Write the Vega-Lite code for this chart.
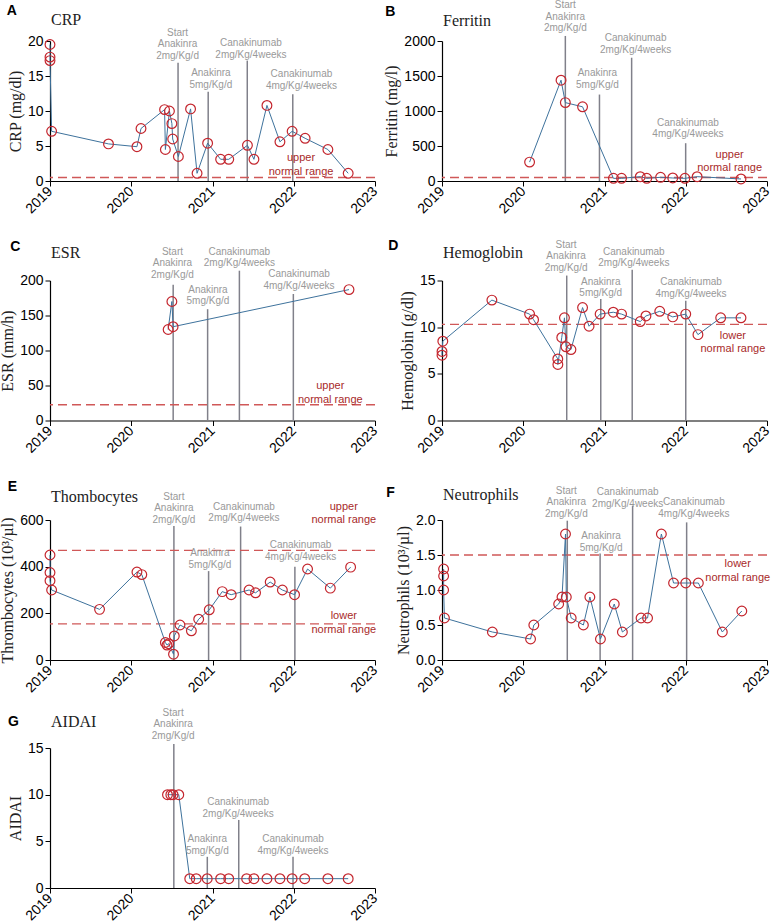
{
  "$schema": "https://vega.github.io/schema/vega-lite/v6.json",
  "background": "white",
  "padding": {"left": -1, "top": 0, "right": 0, "bottom": 0},
  "bounds": "flush",
  "spacing": 707,
  "config": {
    "view": {"stroke": null},
    "axis": {"domainColor": "#000", "domainWidth": 1.2, "tickColor": "#000", "tickWidth": 1, "tickSize": 5, "labelColor": "#000", "labelFont": "Liberation Sans", "labelFontSize": 14, "labelPadding": 2, "titleFont": "Liberation Serif", "titleFontSize": 16, "titleFontWeight": "normal", "titleColor": "#222", "titlePadding": 4, "grid": false},
    "axisX": {"labelAngle": -45, "labelAlign": "right", "labelBaseline": "middle", "labelOverlap": false, "labelFlush": false, "labelPadding": 3},
    "axisY": {"labelOverlap": false}
  },
  "datasets": {
    "crp": [
      {"d": 2019.0, "v": 19.5}, {"d": 2019.0, "v": 17.7}, {"d": 2019.0, "v": 17.2}, {"d": 2019.02, "v": 7.1},
      {"d": 2019.72, "v": 5.3}, {"d": 2020.07, "v": 4.9}, {"d": 2020.12, "v": 7.5}, {"d": 2020.41, "v": 10.2},
      {"d": 2020.42, "v": 4.5}, {"d": 2020.47, "v": 10.0}, {"d": 2020.5, "v": 8.2}, {"d": 2020.51, "v": 6.0},
      {"d": 2020.58, "v": 3.5}, {"d": 2020.73, "v": 10.3}, {"d": 2020.81, "v": 1.1}, {"d": 2020.94, "v": 5.4},
      {"d": 2021.1, "v": 3.1}, {"d": 2021.2, "v": 3.1}, {"d": 2021.43, "v": 5.1}, {"d": 2021.51, "v": 3.1},
      {"d": 2021.67, "v": 10.8}, {"d": 2021.83, "v": 5.6}, {"d": 2021.98, "v": 7.1}, {"d": 2022.14, "v": 6.1},
      {"d": 2022.42, "v": 4.5}, {"d": 2022.67, "v": 1.1}
    ],
    "ferritin": [
      {"d": 2020.078, "v": 270}, {"d": 2020.465, "v": 1440}, {"d": 2020.518, "v": 1120}, {"d": 2020.73, "v": 1060},
      {"d": 2021.11, "v": 38}, {"d": 2021.21, "v": 38}, {"d": 2021.44, "v": 62}, {"d": 2021.52, "v": 38},
      {"d": 2021.69, "v": 53}, {"d": 2021.84, "v": 43}, {"d": 2021.99, "v": 38}, {"d": 2022.14, "v": 62},
      {"d": 2022.68, "v": 29}
    ],
    "esr": [
      {"d": 2020.454, "v": 130}, {"d": 2020.5, "v": 170}, {"d": 2020.515, "v": 134}, {"d": 2022.68, "v": 187}
    ],
    "hgb": [
      {"d": 2019.0, "v": 7.0}, {"d": 2019.0, "v": 7.4}, {"d": 2019.01, "v": 8.5}, {"d": 2019.614, "v": 12.9},
      {"d": 2020.078, "v": 11.4}, {"d": 2020.127, "v": 10.8}, {"d": 2020.425, "v": 6.6}, {"d": 2020.426, "v": 6.0},
      {"d": 2020.474, "v": 8.9}, {"d": 2020.507, "v": 11.0}, {"d": 2020.526, "v": 7.9}, {"d": 2020.587, "v": 7.6},
      {"d": 2020.73, "v": 12.1}, {"d": 2020.81, "v": 10.1}, {"d": 2020.946, "v": 11.4}, {"d": 2021.108, "v": 11.6},
      {"d": 2021.21, "v": 11.4}, {"d": 2021.44, "v": 10.6}, {"d": 2021.51, "v": 11.2}, {"d": 2021.68, "v": 11.7},
      {"d": 2021.84, "v": 11.1}, {"d": 2022.0, "v": 11.4}, {"d": 2022.15, "v": 9.2}, {"d": 2022.43, "v": 11.0},
      {"d": 2022.68, "v": 11.0}
    ],
    "plt": [
      {"d": 2019.0, "v": 450}, {"d": 2019.0, "v": 375}, {"d": 2019.0, "v": 340}, {"d": 2019.02, "v": 300},
      {"d": 2019.61, "v": 217}, {"d": 2020.07, "v": 377}, {"d": 2020.13, "v": 366}, {"d": 2020.42, "v": 75},
      {"d": 2020.44, "v": 64}, {"d": 2020.46, "v": 70}, {"d": 2020.52, "v": 25}, {"d": 2020.53, "v": 103},
      {"d": 2020.6, "v": 150}, {"d": 2020.74, "v": 125}, {"d": 2020.83, "v": 175}, {"d": 2020.96, "v": 215},
      {"d": 2021.12, "v": 293}, {"d": 2021.23, "v": 280}, {"d": 2021.45, "v": 300}, {"d": 2021.53, "v": 288},
      {"d": 2021.71, "v": 334}, {"d": 2021.86, "v": 300}, {"d": 2022.01, "v": 280}, {"d": 2022.17, "v": 390},
      {"d": 2022.45, "v": 308}, {"d": 2022.7, "v": 398}
    ],
    "neut": [
      {"d": 2019.02, "v": 1.3}, {"d": 2019.02, "v": 1.2}, {"d": 2019.02, "v": 1.0}, {"d": 2019.03, "v": 0.6},
      {"d": 2019.62, "v": 0.4}, {"d": 2020.09, "v": 0.3}, {"d": 2020.13, "v": 0.5}, {"d": 2020.436, "v": 0.8},
      {"d": 2020.477, "v": 0.9}, {"d": 2020.52, "v": 1.8}, {"d": 2020.53, "v": 0.9}, {"d": 2020.59, "v": 0.6},
      {"d": 2020.74, "v": 0.5}, {"d": 2020.82, "v": 0.9}, {"d": 2020.95, "v": 0.3}, {"d": 2021.12, "v": 0.8},
      {"d": 2021.22, "v": 0.4}, {"d": 2021.45, "v": 0.6}, {"d": 2021.53, "v": 0.6}, {"d": 2021.7, "v": 1.8},
      {"d": 2021.85, "v": 1.1}, {"d": 2022.0, "v": 1.1}, {"d": 2022.155, "v": 1.1}, {"d": 2022.45, "v": 0.4},
      {"d": 2022.69, "v": 0.7}
    ],
    "aidai": [
      {"d": 2020.446, "v": 10}, {"d": 2020.487, "v": 10}, {"d": 2020.515, "v": 10}, {"d": 2020.585, "v": 10},
      {"d": 2020.72, "v": 1}, {"d": 2020.8, "v": 1}, {"d": 2020.935, "v": 1}, {"d": 2021.1, "v": 1},
      {"d": 2021.2, "v": 1}, {"d": 2021.42, "v": 1}, {"d": 2021.51, "v": 1}, {"d": 2021.67, "v": 1},
      {"d": 2021.83, "v": 1}, {"d": 2021.98, "v": 1}, {"d": 2022.135, "v": 1}, {"d": 2022.42, "v": 1},
      {"d": 2022.67, "v": 1}
    ],
    "treat": [
      {"panel": "A", "t": 2020.576, "top": 16.9, "tx": 2020.57, "ty": 20.49, "label": "Start\nAnakinra\n2mg/Kg/d"},
      {"panel": "A", "t": 2020.947, "top": 12.76, "tx": 2020.98, "ty": 14.67, "label": "Anakinra\n5mg/Kg/d"},
      {"panel": "A", "t": 2021.428, "top": 17.2, "tx": 2021.473, "ty": 18.94, "label": "Canakinumab\n2mg/Kg/4weeks"},
      {"panel": "A", "t": 2021.988, "top": 12.39, "tx": 2022.095, "ty": 14.57, "label": "Canakinumab\n4mg/Kg/4weeks"},
      {"panel": "B", "t": 2020.518, "top": 2072, "tx": 2020.518, "ty": 2438, "label": "Start\nAnakinra\n2mg/Kg/d"},
      {"panel": "B", "t": 2020.938, "top": 1235, "tx": 2020.913, "ty": 1465, "label": "Anakinra\n5mg/Kg/d"},
      {"panel": "B", "t": 2021.334, "top": 1761, "tx": 2021.383, "ty": 1967, "label": "Canakinumab\n2mg/Kg/4weeks"},
      {"panel": "B", "t": 2021.999, "top": 540, "tx": 2022.027, "ty": 761, "label": "Canakinumab\n4mg/Kg/4weeks"},
      {"panel": "C", "t": 2020.516, "top": 194, "tx": 2020.507, "ty": 233.8, "label": "Start\nAnakinra\n2mg/Kg/d"},
      {"panel": "C", "t": 2020.94, "top": 159, "tx": 2020.944, "ty": 179.9, "label": "Anakinra\n5mg/Kg/d"},
      {"panel": "C", "t": 2021.331, "top": 214, "tx": 2021.33, "ty": 234, "label": "Canakinumab\n2mg/Kg/4weeks"},
      {"panel": "C", "t": 2021.995, "top": 180.7, "tx": 2022.065, "ty": 201.9, "label": "Canakinumab\n4mg/Kg/4weeks"},
      {"panel": "D", "t": 2020.535, "top": 15.53, "tx": 2020.527, "ty": 18.31, "label": "Start\nAnakinra\n2mg/Kg/d"},
      {"panel": "D", "t": 2020.954, "top": 13.02, "tx": 2020.954, "ty": 14.34, "label": "Anakinra\n5mg/Kg/d"},
      {"panel": "D", "t": 2021.341, "top": 16.15, "tx": 2021.361, "ty": 17.55, "label": "Canakinumab\n2mg/Kg/4weeks"},
      {"panel": "D", "t": 2022.0, "top": 12.84, "tx": 2022.065, "ty": 14.28, "label": "Canakinumab\n4mg/Kg/4weeks"},
      {"panel": "E", "t": 2020.525, "top": 574, "tx": 2020.525, "ty": 678.1, "label": "Start\nAnakinra\n2mg/Kg/d"},
      {"panel": "E", "t": 2020.952, "top": 381, "tx": 2020.968, "ty": 435.9, "label": "Anakinra\n5mg/Kg/d"},
      {"panel": "E", "t": 2021.346, "top": 572, "tx": 2021.387, "ty": 634.3, "label": "Canakinumab\n2mg/Kg/4weeks"},
      {"panel": "E", "t": 2022.014, "top": 400, "tx": 2022.084, "ty": 471.3, "label": "Canakinumab\n4mg/Kg/4weeks"},
      {"panel": "F", "t": 2020.542, "top": 1.99, "tx": 2020.53, "ty": 2.345, "label": "Start\nAnakinra\n2mg/Kg/d"},
      {"panel": "F", "t": 2020.946, "top": 1.523, "tx": 2020.958, "ty": 1.694, "label": "Anakinra\n5mg/Kg/d"},
      {"panel": "F", "t": 2021.346, "top": 2.204, "tx": 2021.285, "ty": 2.323, "label": "Canakinumab\n2mg/Kg/4weeks"},
      {"panel": "F", "t": 2022.011, "top": 1.966, "tx": 2022.1, "ty": 2.184, "label": "Canakinumab\n4mg/Kg/4weeks"},
      {"panel": "G", "t": 2020.524, "top": 15.43, "tx": 2020.516, "ty": 18.22, "label": "Start\nAnakinra\n2mg/Kg/d"},
      {"panel": "G", "t": 2020.936, "top": 3.34, "tx": 2020.936, "ty": 4.71, "label": "Anakinra\n5mg/Kg/d"},
      {"panel": "G", "t": 2021.323, "top": 7.29, "tx": 2021.315, "ty": 8.66, "label": "Canakinumab\n2mg/Kg/4weeks"},
      {"panel": "G", "t": 2021.991, "top": 3.34, "tx": 2021.991, "ty": 4.71, "label": "Canakinumab\n4mg/Kg/4weeks"}
    ],
    "norm": [
      {"panel": "A", "v": 0.5, "tx": 2022.09, "ty": 2.53, "label": "upper\nnormal range"},
      {"panel": "B", "v": 50, "tx": 2022.54, "ty": 303, "label": "upper\nnormal range"},
      {"panel": "C", "v": 22.5, "tx": 2022.45, "ty": 42.1, "label": "upper\nnormal range"},
      {"panel": "D", "v": 10.3, "tx": 2022.58, "ty": 8.57, "label": "lower\nnormal range"},
      {"panel": "E", "v": 470, "tx": 2022.616, "ty": 634.4, "label": "upper\nnormal range"},
      {"panel": "E", "v": 155, "tx": 2022.616, "ty": 165.9, "label": "lower\nnormal range"},
      {"panel": "F", "v": 1.5, "tx": 2022.64, "ty": 1.293, "label": "lower\nnormal range"}
    ]
  },
  "vconcat": [
    {
      "columns": 2,
      "bounds": "flush",
      "spacing": {"row": 99.5, "column": 67},
      "concat": [
        {
          "width": 325, "height": 140,
          "layer": [
            {"data": {"name": "treat"}, "transform": [{"filter": "datum.panel === 'A'"}],
             "mark": {"type": "rule", "color": "#80808a", "strokeWidth": 1.5},
             "encoding": {
               "x": {"field": "t", "type": "quantitative", "scale": {"domain": [2019, 2023], "nice": false, "zero": false},
                     "axis": {"title": null, "format": "d", "labelExpr": "datum.value % 1 === 0 ? datum.label : ''", "values": [2019,2019.125,2019.25,2019.375,2019.5,2019.625,2019.75,2019.875,2020,2020.125,2020.25,2020.375,2020.5,2020.625,2020.75,2020.875,2021,2021.125,2021.25,2021.375,2021.5,2021.625,2021.75,2021.875,2022,2022.125,2022.25,2022.375,2022.5,2022.625,2022.75,2022.875,2023]}},
               "y": {"field": "top", "type": "quantitative", "scale": {"domain": [0, 20], "nice": false}, "axis": {"title": "CRP (mg/dl)", "values": [0, 5, 10, 15, 20], "tickCount": 5, "format": "d"}},
               "y2": {"datum": 0}
             }},
            {"data": {"name": "norm"}, "transform": [{"filter": "datum.panel === 'A'"}],
             "mark": {"type": "rule", "color": "#d05858", "strokeWidth": 1.4, "strokeDash": [9, 5]},
             "encoding": {"y": {"field": "v", "type": "quantitative"}}},
            {"data": {"name": "crp"}, "mark": {"type": "line", "color": "#3e729c", "strokeWidth": 1},
             "encoding": {"x": {"field": "d", "type": "quantitative"}, "y": {"field": "v", "type": "quantitative"}}},
            {"data": {"name": "crp"}, "mark": {"type": "point", "shape": "circle", "filled": false, "color": "#c4262e", "size": 95, "strokeWidth": 1.2, "opacity": 1},
             "encoding": {"x": {"field": "d", "type": "quantitative"}, "y": {"field": "v", "type": "quantitative"}}},
            {"data": {"name": "treat"}, "transform": [{"filter": "datum.panel === 'A'"}],
             "mark": {"type": "text", "font": "Liberation Sans", "fontSize": 10, "color": "#999999", "lineBreak": "\n", "lineHeight": 11.5, "align": "center", "baseline": "bottom"},
             "encoding": {"x": {"field": "tx", "type": "quantitative"}, "y": {"field": "ty", "type": "quantitative"}, "text": {"field": "label"}}},
            {"data": {"name": "norm"}, "transform": [{"filter": "datum.panel === 'A'"}],
             "mark": {"type": "text", "font": "Liberation Sans", "fontSize": 11, "color": "#a82a2a", "lineBreak": "\n", "lineHeight": 13.5, "align": "center", "baseline": "bottom"},
             "encoding": {"x": {"field": "tx", "type": "quantitative"}, "y": {"field": "ty", "type": "quantitative"}, "text": {"field": "label"}}},
            {"data": {"values": [{"label": "CRP"}]},
             "mark": {"type": "text", "font": "Liberation Serif", "fontSize": 16, "color": "#222", "align": "left", "baseline": "alphabetic", "dx": 1},
             "encoding": {"x": {"datum": 2019, "type": "quantitative"}, "y": {"datum": 22.29, "type": "quantitative"}, "text": {"field": "label"}}},
            {"data": {"values": [{"label": "A"}]},
             "mark": {"type": "text", "font": "Liberation Sans", "fontSize": 14, "fontWeight": "bold", "color": "#000", "align": "left", "baseline": "alphabetic"},
             "encoding": {"x": {"datum": 2018.469, "type": "quantitative"}, "y": {"datum": 23.71, "type": "quantitative"}, "text": {"field": "label"}}}
          ]
        },
        {
          "width": 325, "height": 140,
          "layer": [
            {"data": {"name": "treat"}, "transform": [{"filter": "datum.panel === 'B'"}],
             "mark": {"type": "rule", "color": "#80808a", "strokeWidth": 1.5},
             "encoding": {
               "x": {"field": "t", "type": "quantitative", "scale": {"domain": [2019, 2023], "nice": false, "zero": false},
                     "axis": {"title": null, "format": "d", "labelExpr": "datum.value % 1 === 0 ? datum.label : ''", "values": [2019,2019.125,2019.25,2019.375,2019.5,2019.625,2019.75,2019.875,2020,2020.125,2020.25,2020.375,2020.5,2020.625,2020.75,2020.875,2021,2021.125,2021.25,2021.375,2021.5,2021.625,2021.75,2021.875,2022,2022.125,2022.25,2022.375,2022.5,2022.625,2022.75,2022.875,2023]}},
               "y": {"field": "top", "type": "quantitative", "scale": {"domain": [0, 2000], "nice": false}, "axis": {"title": "Ferritin (mg/l)", "values": [0, 500, 1000, 1500, 2000], "tickCount": 5, "format": "d"}},
               "y2": {"datum": 0}
             }},
            {"data": {"name": "norm"}, "transform": [{"filter": "datum.panel === 'B'"}],
             "mark": {"type": "rule", "color": "#d05858", "strokeWidth": 1.4, "strokeDash": [9, 5]},
             "encoding": {"y": {"field": "v", "type": "quantitative"}}},
            {"data": {"name": "ferritin"}, "mark": {"type": "line", "color": "#3e729c", "strokeWidth": 1},
             "encoding": {"x": {"field": "d", "type": "quantitative"}, "y": {"field": "v", "type": "quantitative"}}},
            {"data": {"name": "ferritin"}, "mark": {"type": "point", "shape": "circle", "filled": false, "color": "#c4262e", "size": 95, "strokeWidth": 1.2, "opacity": 1},
             "encoding": {"x": {"field": "d", "type": "quantitative"}, "y": {"field": "v", "type": "quantitative"}}},
            {"data": {"name": "treat"}, "transform": [{"filter": "datum.panel === 'B'"}],
             "mark": {"type": "text", "font": "Liberation Sans", "fontSize": 10, "color": "#999999", "lineBreak": "\n", "lineHeight": 11.5, "align": "center", "baseline": "bottom"},
             "encoding": {"x": {"field": "tx", "type": "quantitative"}, "y": {"field": "ty", "type": "quantitative"}, "text": {"field": "label"}}},
            {"data": {"name": "norm"}, "transform": [{"filter": "datum.panel === 'B'"}],
             "mark": {"type": "text", "font": "Liberation Sans", "fontSize": 11, "color": "#a82a2a", "lineBreak": "\n", "lineHeight": 13.5, "align": "center", "baseline": "bottom"},
             "encoding": {"x": {"field": "tx", "type": "quantitative"}, "y": {"field": "ty", "type": "quantitative"}, "text": {"field": "label"}}},
            {"data": {"values": [{"label": "Ferritin"}]},
             "mark": {"type": "text", "font": "Liberation Serif", "fontSize": 16, "color": "#222", "align": "left", "baseline": "alphabetic", "dx": 1},
             "encoding": {"x": {"datum": 2019, "type": "quantitative"}, "y": {"datum": 2216, "type": "quantitative"}, "text": {"field": "label"}}},
            {"data": {"values": [{"label": "B"}]},
             "mark": {"type": "text", "font": "Liberation Sans", "fontSize": 14, "fontWeight": "bold", "color": "#000", "align": "left", "baseline": "alphabetic"},
             "encoding": {"x": {"datum": 2018.302, "type": "quantitative"}, "y": {"datum": 2359, "type": "quantitative"}, "text": {"field": "label"}}}
          ]
        },
        {
          "width": 325, "height": 140,
          "layer": [
            {"data": {"name": "treat"}, "transform": [{"filter": "datum.panel === 'C'"}],
             "mark": {"type": "rule", "color": "#80808a", "strokeWidth": 1.5},
             "encoding": {
               "x": {"field": "t", "type": "quantitative", "scale": {"domain": [2019, 2023], "nice": false, "zero": false},
                     "axis": {"title": null, "format": "d", "labelExpr": "datum.value % 1 === 0 ? datum.label : ''", "values": [2019,2019.125,2019.25,2019.375,2019.5,2019.625,2019.75,2019.875,2020,2020.125,2020.25,2020.375,2020.5,2020.625,2020.75,2020.875,2021,2021.125,2021.25,2021.375,2021.5,2021.625,2021.75,2021.875,2022,2022.125,2022.25,2022.375,2022.5,2022.625,2022.75,2022.875,2023]}},
               "y": {"field": "top", "type": "quantitative", "scale": {"domain": [0, 200], "nice": false}, "axis": {"title": "ESR (mm/h)", "values": [0, 50, 100, 150, 200], "tickCount": 5, "format": "d"}},
               "y2": {"datum": 0}
             }},
            {"data": {"name": "norm"}, "transform": [{"filter": "datum.panel === 'C'"}],
             "mark": {"type": "rule", "color": "#d05858", "strokeWidth": 1.4, "strokeDash": [9, 5]},
             "encoding": {"y": {"field": "v", "type": "quantitative"}}},
            {"data": {"name": "esr"}, "mark": {"type": "line", "color": "#3e729c", "strokeWidth": 1},
             "encoding": {"x": {"field": "d", "type": "quantitative"}, "y": {"field": "v", "type": "quantitative"}}},
            {"data": {"name": "esr"}, "mark": {"type": "point", "shape": "circle", "filled": false, "color": "#c4262e", "size": 95, "strokeWidth": 1.2, "opacity": 1},
             "encoding": {"x": {"field": "d", "type": "quantitative"}, "y": {"field": "v", "type": "quantitative"}}},
            {"data": {"name": "treat"}, "transform": [{"filter": "datum.panel === 'C'"}],
             "mark": {"type": "text", "font": "Liberation Sans", "fontSize": 10, "color": "#999999", "lineBreak": "\n", "lineHeight": 11.5, "align": "center", "baseline": "bottom"},
             "encoding": {"x": {"field": "tx", "type": "quantitative"}, "y": {"field": "ty", "type": "quantitative"}, "text": {"field": "label"}}},
            {"data": {"name": "norm"}, "transform": [{"filter": "datum.panel === 'C'"}],
             "mark": {"type": "text", "font": "Liberation Sans", "fontSize": 11, "color": "#a82a2a", "lineBreak": "\n", "lineHeight": 13.5, "align": "center", "baseline": "bottom"},
             "encoding": {"x": {"field": "tx", "type": "quantitative"}, "y": {"field": "ty", "type": "quantitative"}, "text": {"field": "label"}}},
            {"data": {"values": [{"label": "ESR"}]},
             "mark": {"type": "text", "font": "Liberation Serif", "fontSize": 16, "color": "#222", "align": "left", "baseline": "alphabetic", "dx": 1},
             "encoding": {"x": {"datum": 2019, "type": "quantitative"}, "y": {"datum": 231.6, "type": "quantitative"}, "text": {"field": "label"}}},
            {"data": {"values": [{"label": "C"}]},
             "mark": {"type": "text", "font": "Liberation Sans", "fontSize": 14, "fontWeight": "bold", "color": "#000", "align": "left", "baseline": "alphabetic"},
             "encoding": {"x": {"datum": 2018.511, "type": "quantitative"}, "y": {"datum": 242.2, "type": "quantitative"}, "text": {"field": "label"}}}
          ]
        },
        {
          "width": 325, "height": 140,
          "layer": [
            {"data": {"name": "treat"}, "transform": [{"filter": "datum.panel === 'D'"}],
             "mark": {"type": "rule", "color": "#80808a", "strokeWidth": 1.5},
             "encoding": {
               "x": {"field": "t", "type": "quantitative", "scale": {"domain": [2019, 2023], "nice": false, "zero": false},
                     "axis": {"title": null, "format": "d", "labelExpr": "datum.value % 1 === 0 ? datum.label : ''", "values": [2019,2019.125,2019.25,2019.375,2019.5,2019.625,2019.75,2019.875,2020,2020.125,2020.25,2020.375,2020.5,2020.625,2020.75,2020.875,2021,2021.125,2021.25,2021.375,2021.5,2021.625,2021.75,2021.875,2022,2022.125,2022.25,2022.375,2022.5,2022.625,2022.75,2022.875,2023]}},
               "y": {"field": "top", "type": "quantitative", "scale": {"domain": [0, 15], "nice": false}, "axis": {"title": "Hemoglobin (g/dl)", "values": [0, 5, 10, 15], "tickCount": 4, "format": "d"}},
               "y2": {"datum": 0}
             }},
            {"data": {"name": "norm"}, "transform": [{"filter": "datum.panel === 'D'"}],
             "mark": {"type": "rule", "color": "#d05858", "strokeWidth": 1.4, "strokeDash": [9, 5]},
             "encoding": {"y": {"field": "v", "type": "quantitative"}}},
            {"data": {"name": "hgb"}, "mark": {"type": "line", "color": "#3e729c", "strokeWidth": 1},
             "encoding": {"x": {"field": "d", "type": "quantitative"}, "y": {"field": "v", "type": "quantitative"}}},
            {"data": {"name": "hgb"}, "mark": {"type": "point", "shape": "circle", "filled": false, "color": "#c4262e", "size": 95, "strokeWidth": 1.2, "opacity": 1},
             "encoding": {"x": {"field": "d", "type": "quantitative"}, "y": {"field": "v", "type": "quantitative"}}},
            {"data": {"name": "treat"}, "transform": [{"filter": "datum.panel === 'D'"}],
             "mark": {"type": "text", "font": "Liberation Sans", "fontSize": 10, "color": "#999999", "lineBreak": "\n", "lineHeight": 11.5, "align": "center", "baseline": "bottom"},
             "encoding": {"x": {"field": "tx", "type": "quantitative"}, "y": {"field": "ty", "type": "quantitative"}, "text": {"field": "label"}}},
            {"data": {"name": "norm"}, "transform": [{"filter": "datum.panel === 'D'"}],
             "mark": {"type": "text", "font": "Liberation Sans", "fontSize": 11, "color": "#a82a2a", "lineBreak": "\n", "lineHeight": 13.5, "align": "center", "baseline": "bottom"},
             "encoding": {"x": {"field": "tx", "type": "quantitative"}, "y": {"field": "ty", "type": "quantitative"}, "text": {"field": "label"}}},
            {"data": {"values": [{"label": "Hemoglobin"}]},
             "mark": {"type": "text", "font": "Liberation Serif", "fontSize": 16, "color": "#222", "align": "left", "baseline": "alphabetic", "dx": 1},
             "encoding": {"x": {"datum": 2019, "type": "quantitative"}, "y": {"datum": 17.4, "type": "quantitative"}, "text": {"field": "label"}}},
            {"data": {"values": [{"label": "D"}]},
             "mark": {"type": "text", "font": "Liberation Sans", "fontSize": 14, "fontWeight": "bold", "color": "#000", "align": "left", "baseline": "alphabetic"},
             "encoding": {"x": {"datum": 2018.337, "type": "quantitative"}, "y": {"datum": 18.22, "type": "quantitative"}, "text": {"field": "label"}}}
          ]
        },
        {
          "width": 325, "height": 140,
          "layer": [
            {"data": {"name": "treat"}, "transform": [{"filter": "datum.panel === 'E'"}],
             "mark": {"type": "rule", "color": "#80808a", "strokeWidth": 1.5},
             "encoding": {
               "x": {"field": "t", "type": "quantitative", "scale": {"domain": [2019, 2023], "nice": false, "zero": false},
                     "axis": {"title": null, "format": "d", "labelExpr": "datum.value % 1 === 0 ? datum.label : ''", "values": [2019,2019.125,2019.25,2019.375,2019.5,2019.625,2019.75,2019.875,2020,2020.125,2020.25,2020.375,2020.5,2020.625,2020.75,2020.875,2021,2021.125,2021.25,2021.375,2021.5,2021.625,2021.75,2021.875,2022,2022.125,2022.25,2022.375,2022.5,2022.625,2022.75,2022.875,2023]}},
               "y": {"field": "top", "type": "quantitative", "scale": {"domain": [0, 600], "nice": false}, "axis": {"title": "Thrombocytes (10³/µl)", "values": [0, 200, 400, 600], "tickCount": 4, "format": "d"}},
               "y2": {"datum": 0}
             }},
            {"data": {"name": "norm"}, "transform": [{"filter": "datum.panel === 'E'"}],
             "mark": {"type": "rule", "color": "#d05858", "strokeWidth": 1.4, "strokeDash": [9, 5]},
             "encoding": {"y": {"field": "v", "type": "quantitative"}}},
            {"data": {"name": "plt"}, "mark": {"type": "line", "color": "#3e729c", "strokeWidth": 1},
             "encoding": {"x": {"field": "d", "type": "quantitative"}, "y": {"field": "v", "type": "quantitative"}}},
            {"data": {"name": "plt"}, "mark": {"type": "point", "shape": "circle", "filled": false, "color": "#c4262e", "size": 95, "strokeWidth": 1.2, "opacity": 1},
             "encoding": {"x": {"field": "d", "type": "quantitative"}, "y": {"field": "v", "type": "quantitative"}}},
            {"data": {"name": "treat"}, "transform": [{"filter": "datum.panel === 'E'"}],
             "mark": {"type": "text", "font": "Liberation Sans", "fontSize": 10, "color": "#999999", "lineBreak": "\n", "lineHeight": 11.5, "align": "center", "baseline": "bottom"},
             "encoding": {"x": {"field": "tx", "type": "quantitative"}, "y": {"field": "ty", "type": "quantitative"}, "text": {"field": "label"}}},
            {"data": {"name": "norm"}, "transform": [{"filter": "datum.panel === 'E'"}],
             "mark": {"type": "text", "font": "Liberation Sans", "fontSize": 11, "color": "#a82a2a", "lineBreak": "\n", "lineHeight": 13.5, "align": "center", "baseline": "bottom"},
             "encoding": {"x": {"field": "tx", "type": "quantitative"}, "y": {"field": "ty", "type": "quantitative"}, "text": {"field": "label"}}},
            {"data": {"values": [{"label": "Thombocytes"}]},
             "mark": {"type": "text", "font": "Liberation Serif", "fontSize": 16, "color": "#222", "align": "left", "baseline": "alphabetic", "dx": 1},
             "encoding": {"x": {"datum": 2019, "type": "quantitative"}, "y": {"datum": 677, "type": "quantitative"}, "text": {"field": "label"}}},
            {"data": {"values": [{"label": "E"}]},
             "mark": {"type": "text", "font": "Liberation Sans", "fontSize": 14, "fontWeight": "bold", "color": "#000", "align": "left", "baseline": "alphabetic"},
             "encoding": {"x": {"datum": 2018.48, "type": "quantitative"}, "y": {"datum": 723, "type": "quantitative"}, "text": {"field": "label"}}}
          ]
        },
        {
          "width": 325, "height": 140,
          "layer": [
            {"data": {"name": "treat"}, "transform": [{"filter": "datum.panel === 'F'"}],
             "mark": {"type": "rule", "color": "#80808a", "strokeWidth": 1.5},
             "encoding": {
               "x": {"field": "t", "type": "quantitative", "scale": {"domain": [2019, 2023], "nice": false, "zero": false},
                     "axis": {"title": null, "format": "d", "labelExpr": "datum.value % 1 === 0 ? datum.label : ''", "values": [2019,2019.125,2019.25,2019.375,2019.5,2019.625,2019.75,2019.875,2020,2020.125,2020.25,2020.375,2020.5,2020.625,2020.75,2020.875,2021,2021.125,2021.25,2021.375,2021.5,2021.625,2021.75,2021.875,2022,2022.125,2022.25,2022.375,2022.5,2022.625,2022.75,2022.875,2023]}},
               "y": {"field": "top", "type": "quantitative", "scale": {"domain": [0, 2], "nice": false}, "axis": {"title": "Neutrophils (10³/µl)", "values": [0, 0.5, 1, 1.5, 2], "tickCount": 5, "format": ".1f"}},
               "y2": {"datum": 0}
             }},
            {"data": {"name": "norm"}, "transform": [{"filter": "datum.panel === 'F'"}],
             "mark": {"type": "rule", "color": "#d05858", "strokeWidth": 1.4, "strokeDash": [9, 5]},
             "encoding": {"y": {"field": "v", "type": "quantitative"}}},
            {"data": {"name": "neut"}, "mark": {"type": "line", "color": "#3e729c", "strokeWidth": 1},
             "encoding": {"x": {"field": "d", "type": "quantitative"}, "y": {"field": "v", "type": "quantitative"}}},
            {"data": {"name": "neut"}, "mark": {"type": "point", "shape": "circle", "filled": false, "color": "#c4262e", "size": 95, "strokeWidth": 1.2, "opacity": 1},
             "encoding": {"x": {"field": "d", "type": "quantitative"}, "y": {"field": "v", "type": "quantitative"}}},
            {"data": {"name": "treat"}, "transform": [{"filter": "datum.panel === 'F'"}],
             "mark": {"type": "text", "font": "Liberation Sans", "fontSize": 10, "color": "#999999", "lineBreak": "\n", "lineHeight": 11.5, "align": "center", "baseline": "bottom"},
             "encoding": {"x": {"field": "tx", "type": "quantitative"}, "y": {"field": "ty", "type": "quantitative"}, "text": {"field": "label"}}},
            {"data": {"name": "norm"}, "transform": [{"filter": "datum.panel === 'F'"}],
             "mark": {"type": "text", "font": "Liberation Sans", "fontSize": 11, "color": "#a82a2a", "lineBreak": "\n", "lineHeight": 13.5, "align": "center", "baseline": "bottom"},
             "encoding": {"x": {"field": "tx", "type": "quantitative"}, "y": {"field": "ty", "type": "quantitative"}, "text": {"field": "label"}}},
            {"data": {"values": [{"label": "Neutrophils"}]},
             "mark": {"type": "text", "font": "Liberation Serif", "fontSize": 16, "color": "#222", "align": "left", "baseline": "alphabetic", "dx": 1},
             "encoding": {"x": {"datum": 2019, "type": "quantitative"}, "y": {"datum": 2.29, "type": "quantitative"}, "text": {"field": "label"}}},
            {"data": {"values": [{"label": "F"}]},
             "mark": {"type": "text", "font": "Liberation Sans", "fontSize": 14, "fontWeight": "bold", "color": "#000", "align": "left", "baseline": "alphabetic"},
             "encoding": {"x": {"datum": 2018.315, "type": "quantitative"}, "y": {"datum": 2.333, "type": "quantitative"}, "text": {"field": "label"}}}
          ]
        }
      ]
    },
    {
      "width": 325, "height": 140,
      "layer": [
        {"data": {"name": "treat"}, "transform": [{"filter": "datum.panel === 'G'"}],
         "mark": {"type": "rule", "color": "#80808a", "strokeWidth": 1.5},
         "encoding": {
           "x": {"field": "t", "type": "quantitative", "scale": {"domain": [2019, 2023], "nice": false, "zero": false},
                 "axis": {"title": null, "format": "d", "labelExpr": "datum.value % 1 === 0 ? datum.label : ''", "values": [2019,2019.125,2019.25,2019.375,2019.5,2019.625,2019.75,2019.875,2020,2020.125,2020.25,2020.375,2020.5,2020.625,2020.75,2020.875,2021,2021.125,2021.25,2021.375,2021.5,2021.625,2021.75,2021.875,2022,2022.125,2022.25,2022.375,2022.5,2022.625,2022.75,2022.875,2023]}},
           "y": {"field": "top", "type": "quantitative", "scale": {"domain": [0, 15], "nice": false}, "axis": {"title": "AIDAI", "values": [0, 5, 10, 15], "tickCount": 4, "format": "d"}},
           "y2": {"datum": 0}
         }},
        {"data": {"name": "aidai"}, "mark": {"type": "line", "color": "#3e729c", "strokeWidth": 1},
         "encoding": {"x": {"field": "d", "type": "quantitative"}, "y": {"field": "v", "type": "quantitative"}}},
        {"data": {"name": "aidai"}, "mark": {"type": "point", "shape": "circle", "filled": false, "color": "#c4262e", "size": 95, "strokeWidth": 1.2, "opacity": 1},
         "encoding": {"x": {"field": "d", "type": "quantitative"}, "y": {"field": "v", "type": "quantitative"}}},
        {"data": {"name": "treat"}, "transform": [{"filter": "datum.panel === 'G'"}],
         "mark": {"type": "text", "font": "Liberation Sans", "fontSize": 10, "color": "#999999", "lineBreak": "\n", "lineHeight": 11.5, "align": "center", "baseline": "bottom"},
         "encoding": {"x": {"field": "tx", "type": "quantitative"}, "y": {"field": "ty", "type": "quantitative"}, "text": {"field": "label"}}},
        {"data": {"values": [{"label": "AIDAI"}]},
         "mark": {"type": "text", "font": "Liberation Serif", "fontSize": 16, "color": "#222", "align": "left", "baseline": "alphabetic", "dx": 1},
         "encoding": {"x": {"datum": 2019, "type": "quantitative"}, "y": {"datum": 17.22, "type": "quantitative"}, "text": {"field": "label"}}},
        {"data": {"values": [{"label": "G"}]},
         "mark": {"type": "text", "font": "Liberation Sans", "fontSize": 14, "fontWeight": "bold", "color": "#000", "align": "left", "baseline": "alphabetic"},
         "encoding": {"x": {"datum": 2018.483, "type": "quantitative"}, "y": {"datum": 17.41, "type": "quantitative"}, "text": {"field": "label"}}}
      ]
    }
  ]
}
